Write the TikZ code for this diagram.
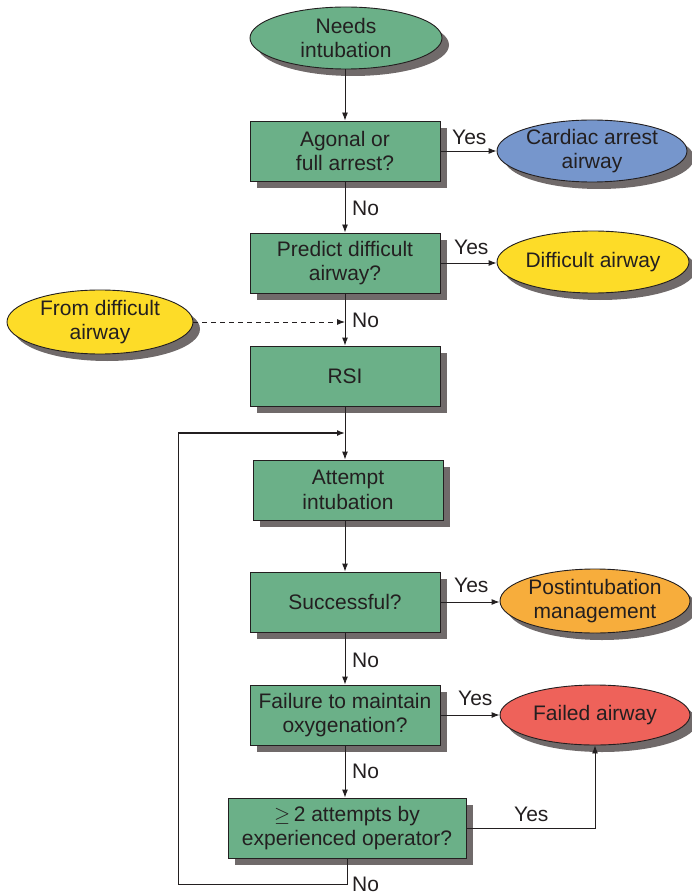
\documentclass[tikz,border=0pt]{standalone}
\usepackage{fontspec}
\setmainfont{Liberation Sans}
\usetikzlibrary{shapes.geometric,shadows,arrows.meta}
\definecolor{boxgreen}{RGB}{107,176,136}
\definecolor{ovblue}{RGB}{118,150,204}
\definecolor{ovyellow}{RGB}{253,220,40}
\definecolor{ovorange}{RGB}{247,173,60}
\definecolor{ovred}{RGB}{238,98,90}
\definecolor{shade}{RGB}{112,106,106}
\definecolor{ink}{RGB}{35,31,32}
\tikzset{
  shd/.style={drop shadow={shadow xshift=7pt,shadow yshift=-7pt,fill=shade,opacity=1}},
  txt/.style={align=center,font=\fontsize{21}{24.5}\selectfont,text=ink,inner sep=0pt},
  stepbox/.style={rectangle,draw=ink,line width=0.9pt,fill=boxgreen,shd,
    minimum width=190pt,minimum height=60pt,txt},
  oval/.style={ellipse,draw=ink,line width=0.9pt,shd,inner sep=0pt,minimum width=190pt,minimum height=62pt},
  lbl/.style={txt,anchor=west},
  arr/.style={draw=ink,line width=0.9pt,-{Latex[length=8pt,width=6pt]}},
  ln/.style={draw=ink,line width=0.9pt}
}
\begin{document}
\begin{tikzpicture}[x=1pt,y=-1pt]
\useasboundingbox (0,0) rectangle (691,893);

% start oval
\node[oval,fill=boxgreen,minimum width=192pt,minimum height=62pt,
  label={[txt]center:Needs\\intubation}] (needs) at (346,38) {};

% main column of decision boxes
\node[stepbox] (agonal) at (345,151) {Agonal or\\full arrest?};
\node[stepbox] (predict) at (345,263) {Predict difficult\\airway?};
\node[stepbox] (rsi) at (345,376) {RSI};
\node[stepbox] (attempt) at (348,490) {Attempt\\intubation};
\node[stepbox] (success) at (345,602) {Successful?};
\node[stepbox] (failox) at (345,715) {Failure to maintain\\oxygenation?};
\node[stepbox,minimum width=238pt] (twice) at (347,828) {$\geq$\,2 attempts by\\experienced operator?};

% outcome ovals
\node[oval,fill=ovblue,label={[txt]center:Cardiac arrest\\airway}] (cardiac) at (592,151) {};
\node[oval,fill=ovyellow,minimum width=192pt,label={[txt]center:Difficult airway}] (difficult) at (593,262) {};
\node[oval,fill=ovyellow,minimum width=186pt,minimum height=64pt,label={[txt]center:From difficult\\airway}] (fromdiff) at (100,322) {};
\node[oval,fill=ovorange,minimum height=64pt,label={[txt]center:Postintubation\\management}] (post) at (595,601) {};
\node[oval,fill=ovred,minimum height=60pt,label={[txt]center:Failed airway}] (failed) at (595,715) {};

% vertical flow
\draw[arr] (needs.south -| agonal.north) -- (agonal.north);
\draw[arr] (agonal.south) -- (predict.north);
\draw[arr] (predict.south) -- (rsi.north);
\coordinate (join) at (345,433);
\draw[arr] (rsi.south) -- (rsi.south |- attempt.north);
\draw[arr] (attempt.south -| success.north) -- (success.north);
\draw[arr] (success.south) -- (failox.north);
\draw[arr] (failox.south) -- (failox.south |- twice.north);

% side branches
\draw[arr] (agonal.east) -- (agonal.east -| cardiac.west);
\draw[arr] (predict.east) -- (predict.east -| difficult.west);
\draw[arr] (success.east) -- (success.east -| post.west);
\draw[arr] (failox.east) -- (failed.west);
\draw[arr] (twice.east) -| (failed.south);
\draw[arr,dashed,dash pattern=on 5pt off 4pt] (fromdiff.east) -- (fromdiff.east -| rsi.north);

% retry loop
\coordinate (loopbot) at (178,884);
\coordinate (looptop) at (178,433);
\draw[ln,line width=0.6pt] (twice.south) |- (loopbot) -- (looptop);
\draw[arr,line width=1.5pt] (looptop) -- (join);

% branch labels
\node[lbl] at (452,137) {Yes};
\node[lbl] at (454,247) {Yes};
\node[lbl] at (454,585) {Yes};
\node[lbl] at (458,698) {Yes};
\node[lbl] at (514,814) {Yes};
\node[lbl] at (352,208) {No};
\node[lbl] at (352,320) {No};
\node[lbl] at (352,660) {No};
\node[lbl] at (352,771) {No};
\node[txt,anchor=south west] at (352,892) {No};
\end{tikzpicture}
\end{document}
